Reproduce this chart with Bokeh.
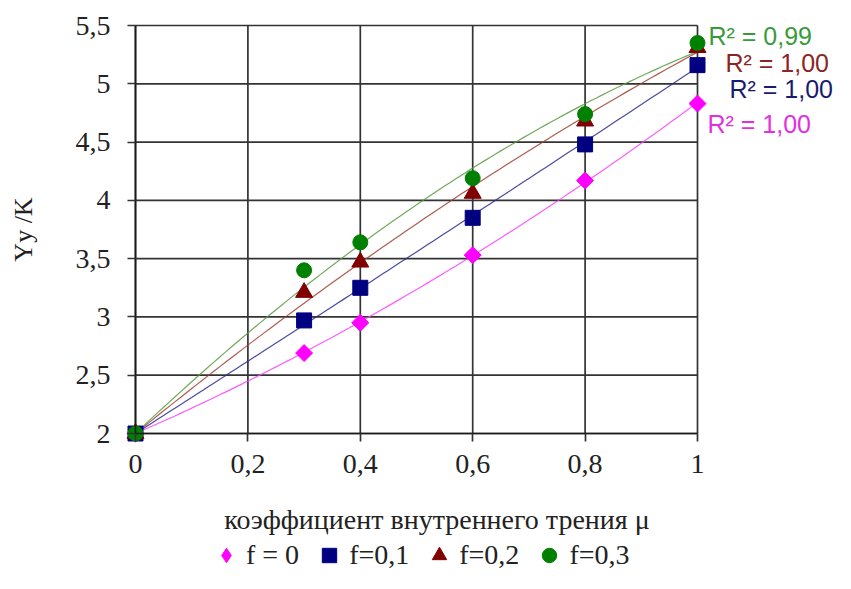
import numpy as np
from bokeh.plotting import figure
from bokeh.models import FixedTicker, Label, Legend, LegendItem
from bokeh.embed import file_html
from bokeh.resources import INLINE

mu = [0, 0.3, 0.4, 0.6, 0.8, 1.0]
f0 = [2.0, 2.69, 2.95, 3.53, 4.17, 4.83]
f01 = [2.0, 2.97, 3.25, 3.85, 4.48, 5.16]
f02 = [2.0, 3.21, 3.47, 4.06, 4.68, 5.31]
f03 = [2.0, 3.40, 3.64, 4.19, 4.74, 5.35]
series_labels = ["f = 0", "f=0,1", "f=0,2", "f=0,3"]
r2_labels = ["R² = 1,00", "R² = 1,00", "R² = 1,00", "R² = 0,99"]
x_ticks = [0, 0.2, 0.4, 0.6, 0.8, 1]
x_tick_labels = ["0", "0,2", "0,4", "0,6", "0,8", "1"]
y_ticks = [2, 2.5, 3, 3.5, 4, 4.5, 5, 5.5]
y_tick_labels = ["2", "2,5", "3", "3,5", "4", "4,5", "5", "5,5"]
x_title = "коэффициент внутреннего трения  μ"
y_title = "Yy /K"

colors = ["#ff00ff", "#000080", "#800000", "#008000"]
line_colors = ["#ff40ff", "#2a2a90", "#a04030", "#5a9a40"]
r2_colors = ["#e030e0", "#1a1a70", "#8b2525", "#3a9a3a"]
markers = ["square", "square", "triangle", "circle"]
legend_markers = ["diamond", "square", "triangle", "circle"]
angles = [np.pi / 4, 0, 0, 0]
sizes = [12, 15, 17, 15]

# layout (pixels in an 835 x 573 canvas)
W, H = 835, 573
X0PX, X1PX = 135, 697      # pixel of x=0 and x=1
Y0PX, Y1PX = 433, 25       # pixel of y=2 and y=5.5
sx = (X1PX - X0PX) / (x_ticks[-1] - x_ticks[0])
sy = (Y0PX - Y1PX) / (y_ticks[-1] - y_ticks[0])
x_range = (x_ticks[0] - X0PX / sx, x_ticks[0] + (W - X0PX) / sx)
y_range = (y_ticks[0] - (H - Y0PX) / sy, y_ticks[-1] + Y1PX / sy)

def px2x(px):
    return x_ticks[0] + (px - X0PX) / sx

def py2y(py):
    return y_ticks[0] + (Y0PX - py) / sy

p = figure(width=W, height=H, x_range=x_range, y_range=y_range, title=None,
           output_backend="svg", toolbar_location=None,
           min_border_left=0, min_border_top=0, min_border_right=0,
           min_border_bottom=0)
p.outline_line_color = None
p.background_fill_color = "white"
p.xgrid.visible = False
p.ygrid.visible = False

# grid lines restricted to the plotting box
grid_col = "#333333"
p.segment(x0=x_ticks, x1=x_ticks, y0=[y_ticks[0]] * len(x_ticks),
          y1=[y_ticks[-1]] * len(x_ticks), line_color=grid_col, line_width=1.7)
p.segment(x0=[x_ticks[0]] * len(y_ticks), x1=[x_ticks[-1]] * len(y_ticks),
          y0=y_ticks, y1=y_ticks, line_color=grid_col, line_width=1.7)

p.xaxis.fixed_location = y_ticks[0]
p.yaxis.fixed_location = x_ticks[0]
p.xaxis.bounds = (x_ticks[0], x_ticks[-1])
p.yaxis.bounds = (y_ticks[0], y_ticks[-1])
p.xaxis.ticker = FixedTicker(ticks=x_ticks)
p.yaxis.ticker = FixedTicker(ticks=y_ticks)
p.xaxis.major_label_overrides = {t: l for t, l in zip(x_ticks, x_tick_labels)}
p.yaxis.major_label_overrides = {t: l for t, l in zip(y_ticks, y_tick_labels)}
for ax in (p.xaxis[0], p.yaxis[0]):
    ax.axis_line_color = "#1a1a1a"
    ax.axis_line_width = 1.7
    ax.major_tick_line_color = grid_col
    ax.major_tick_line_width = 1.7
    ax.major_tick_out = 8
    ax.major_tick_in = 0
    ax.minor_tick_line_color = None
    ax.major_label_text_font = "Liberation Serif"
    ax.major_label_text_font_size = "28px"
    ax.major_label_text_color = "#222222"
    ax.axis_label_text_font = "Liberation Serif"
    ax.axis_label_text_font_size = "26px"
    ax.axis_label_text_font_style = "normal"
    ax.axis_label_text_color = "#222222"
p.xaxis.major_label_standoff = 13
p.yaxis.major_label_standoff = 17
p.yaxis.axis_label = y_title
p.yaxis.axis_label_standoff = 35

# trend lines: quadratic through the common start point
xs = np.linspace(x_ticks[0], x_ticks[-1], 101)
series = [f0, f01, f02, f03]
for ys, c in zip(series, line_colors):
    xa = np.array(mu)
    ya = np.array(ys) - ys[0]
    A = np.column_stack([xa, xa ** 2])
    coef, *_ = np.linalg.lstsq(A, ya, rcond=None)
    yfit = ys[0] + coef[0] * xs + coef[1] * xs ** 2
    p.line(xs, yfit, line_color=c, line_width=1.2, line_alpha=0.85)

items = []
for ys, c, m, lm, a, s, lab in zip(series, colors, markers, legend_markers,
                                    angles, sizes, series_labels):
    if lm != m:
        # legend glyph (kept under the visible rotated marker)
        rl = p.scatter(mu, ys, marker=lm, size=s, fill_color=c, line_color=c)
    r = p.scatter(mu, ys, marker=m, angle=a, size=s, fill_color=c, line_color=c)
    items.append(LegendItem(label=lab, renderers=[rl if lm != m else r]))

legend = Legend(items=items, orientation="horizontal", location=(208, 0),
                border_line_color=None, background_fill_alpha=0,
                label_text_font="Liberation Serif", label_text_font_size="28px",
                label_text_color="#222222", glyph_width=36, glyph_height=36,
                spacing=12, padding=0, margin=0, label_standoff=2,
                label_height=28)
p.add_layout(legend, "center")

p.add_layout(Label(x=px2x(440), y=py2y(519), text=x_title, text_color="#222222",
                   text_align="center", text_baseline="middle",
                   text_font="Liberation Serif", text_font_size="28px"))

r2_px = [(707, 123), (729, 88), (725, 62), (708, 35)]
for (lx, ly), t, c in zip(r2_px, r2_labels, r2_colors):
    p.add_layout(Label(x=px2x(lx), y=py2y(ly), text=t, text_color=c,
                       text_baseline="alphabetic",
                       text_font="Liberation Sans", text_font_size="25px"))

open("out.html", "w").write(file_html(p, INLINE))
